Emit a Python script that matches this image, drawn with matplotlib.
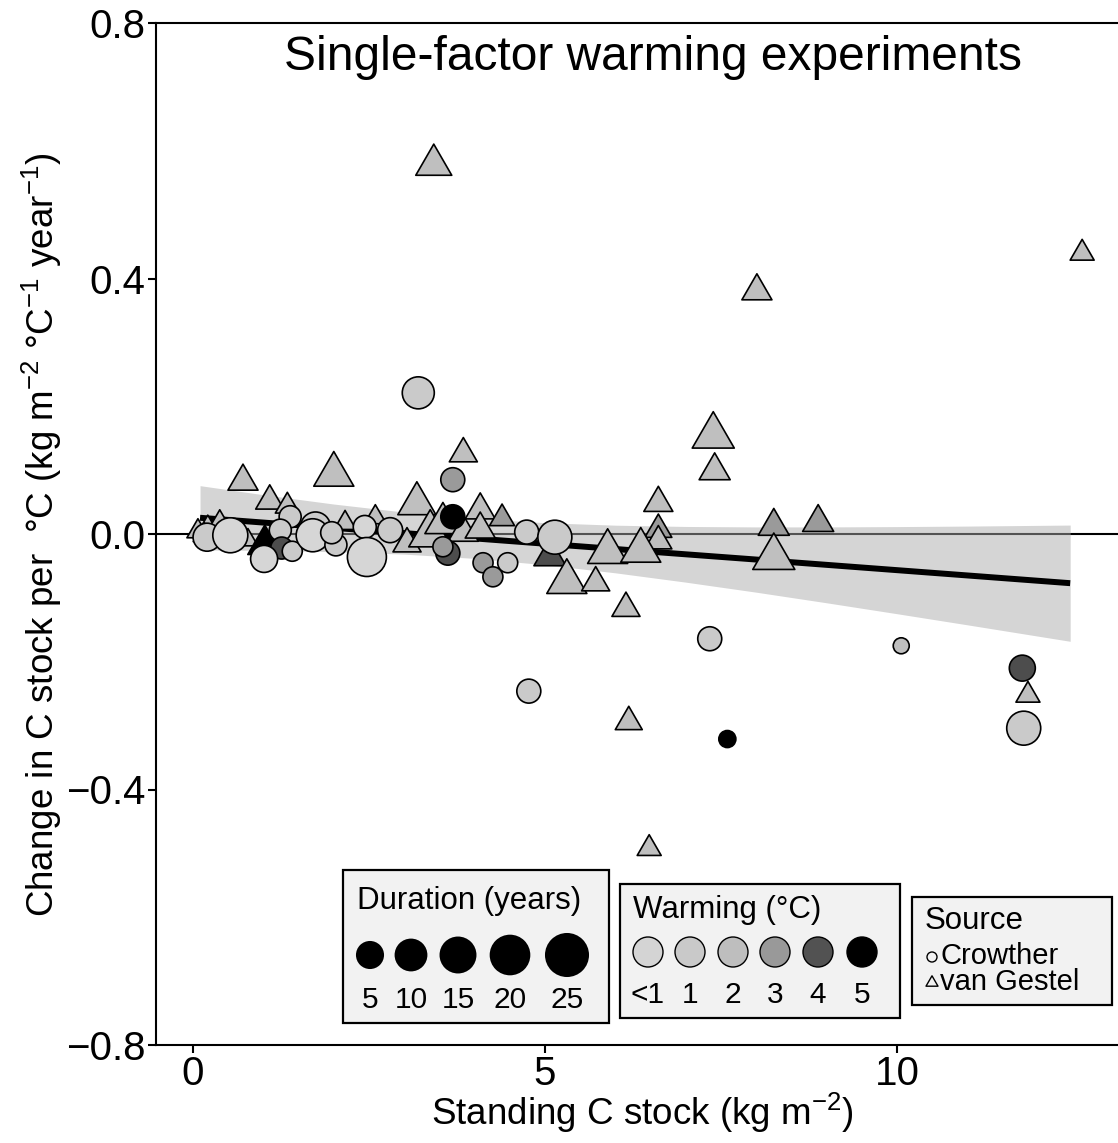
import matplotlib
matplotlib.use("Agg")
import matplotlib.pyplot as plt
import numpy as np
from matplotlib.path import Path
from matplotlib.patches import Rectangle

plt.rcParams['font.family'] = ['Liberation Sans', 'DejaVu Sans']
plt.rcParams['mathtext.fontset'] = 'custom'
plt.rcParams['mathtext.rm'] = 'Liberation Sans'
plt.rcParams['mathtext.it'] = 'Liberation Sans:italic'
plt.rcParams['mathtext.bf'] = 'Liberation Sans:bold'

# ---------------- data ----------------
# Crowther (circles): standing C stock, change, duration (yr), warming class (0 = "<1")
crow_x = [0.20, 0.53, 1.38, 1.24, 1.26, 1.01, 1.41, 1.74, 1.70, 2.03, 2.44, 2.80,
          2.47, 1.97, 3.20, 3.69, 3.62, 3.55, 3.69, 4.12, 4.26, 4.47, 4.74, 5.14,
          7.34, 10.06, 11.78, 11.80, 7.59, 4.77]
crow_y = [-0.005, -0.002, 0.027, 0.006, -0.022, -0.039, -0.027, 0.011, -0.002, -0.017, 0.011, 0.006,
          -0.036, 0.002, 0.221, 0.085, -0.030, -0.020, 0.027, -0.045, -0.067, -0.045, 0.003, -0.005,
          -0.164, -0.175, -0.210, -0.304, -0.321, -0.246]
crow_dur = [11.7, 20.5, 5.7, 5.7, 5.7, 10.6, 4.0, 14.0, 17.8, 5.7, 6.6, 8.5,
            26.4, 5.7, 16.5, 7.5, 7.5, 4.0, 7.5, 4.0, 4.0, 4.0, 7.5, 19.1,
            7.5, 1.1, 9.5, 19.1, 1.8, 7.5]
crow_warm = [1, 0, 1, 1, 4, 0, 1, 1, 0, 1, 0, 1,
             0, 1, 1, 3, 4, 3, 5, 3, 3, 1, 1, 1,
             1, 2, 4, 1, 5, 1]

# van Gestel (triangles)
gest_x = [0.07, 0.21, 0.38, 0.16, 0.78, 1.02, 0.71, 2.00, 1.09, 1.34, 2.16, 2.59,
          3.04, 3.18, 3.37, 3.55, 3.84, 3.84, 4.08, 4.08, 4.39, 3.42, 12.63, 8.01,
          7.39, 7.41, 6.61, 6.61, 6.61, 5.07, 5.31, 5.72, 6.15, 5.89, 6.36, 8.25,
          8.88, 8.25, 6.19, 11.86, 6.48]
gest_y = [0.009, 0.016, 0.023, 0.003, -0.005, -0.009, 0.089, 0.102, 0.058, 0.049, 0.022, 0.031,
          -0.009, 0.056, 0.009, 0.025, 0.009, 0.132, 0.044, 0.014, 0.030, 0.586, 0.445, 0.387,
          0.163, 0.106, 0.055, 0.013, -0.005, -0.028, -0.066, -0.070, -0.110, -0.019, -0.017, 0.019,
          0.025, -0.027, -0.288, -0.247, -0.487]
gest_dur = [4.0, 2.6, 4.0, 4.0, 2.6, 15.1, 10.9, 22.5, 9.0, 5.5, 4.0, 4.0,
            9.0, 19.9, 26.5, 17.4, 10.9, 9.0, 10.9, 10.9, 6.3, 17.4, 5.5, 10.9,
            25.2, 11.9, 9.9, 8.0, 8.0, 12.9, 22.5, 9.0, 9.0, 22.5, 22.5, 11.9,
            11.9, 25.2, 8.0, 5.5, 5.5]
gest_warm = [2, 2, 2, 2, 2, 5, 2, 2, 2, 2, 2, 2,
             2, 2, 2, 2, 2, 2, 2, 2, 3, 2, 2, 2,
             2, 2, 2, 3, 2, 4, 2, 2, 2, 2, 2, 3,
             3, 2, 2, 2, 2]

# fitted regression line and its confidence band
fit_x = [0.10, 1, 2, 3, 4, 5, 6, 7, 8, 9, 10, 11, 12.46]
fit_y = [0.0254, 0.0179, 0.0096, 0.0014, -0.0069, -0.0152, -0.0235, -0.0318, -0.0400, -0.0483, -0.0566, -0.0649, -0.0770]
band_lo = [-0.0249, -0.0257, -0.0277, -0.0315, -0.0382, -0.0481, -0.0608, -0.0754, -0.0911, -0.1077, -0.1248, -0.1422, -0.1680]
band_hi = [0.0757, 0.0615, 0.0469, 0.0343, 0.0244, 0.0177, 0.0138, 0.0118, 0.0111, 0.0111, 0.0116, 0.0124, 0.0140]

x_ticks = [0, 5, 10]
y_ticks = [0.8, 0.4, 0.0, -0.4, -0.8]
dur_legend = [5, 10, 15, 20, 25]
warm_legend = ["<1", "1", "2", "3", "4", "5"]
source_labels = ["Crowther", "van Gestel"]

title = "Single-factor warming experiments"
xlabel = r"Standing C stock (kg m$^{-2}$)"
ylabel = r"Change in C stock per  °C (kg m$^{-2}$ °C$^{-1}$ year$^{-1}$)"

# ---------------- styles ----------------
W, H = 1118, 1143
DPI = 100
PX2PT = 72.0 / DPI
warm_cols = ['#d6d6d6', '#cacaca', '#bfbfbf', '#9a9a9a', '#4d4d4d', '#000000']

tri = Path([(-1, -0.866), (1, -0.866), (0, 0.866), (-1, -0.866)],
           [Path.MOVETO, Path.LINETO, Path.LINETO, Path.CLOSEPOLY])


def circ_diam_px(d):
    return np.sqrt(200 + 50 * np.asarray(d, float))


def circ_s(d):
    return (circ_diam_px(d) * PX2PT) ** 2


def tri_s(d):
    return (1.1 * circ_diam_px(d) * PX2PT) ** 2


fig = plt.figure(figsize=(W / DPI, H / DPI), dpi=DPI)
ax_l, ax_r, ax_t, ax_b = 156, 1118, 23, 1045
ax = fig.add_axes([ax_l / W, (H - ax_b) / H, (ax_r - ax_l) / W, (ax_b - ax_t) / H])
ax.set_xlim((ax_l - 193) / 70.4, (ax_r - 193) / 70.4)
ax.set_ylim(-0.8, 0.8)

ax.axhline(0, color='black', lw=1.5, zorder=1)
ax.fill_between(fit_x, band_lo, band_hi, color='#aaaaaa', alpha=0.49, lw=0, zorder=2)
ax.plot(fit_x, fit_y, color='black', lw=4.3, zorder=3, solid_capstyle='butt')

ax.scatter(gest_x, gest_y, s=tri_s(gest_dur), marker=tri,
           c=[warm_cols[w] for w in gest_warm], edgecolors='black', linewidths=1.2, zorder=4)
ax.scatter(crow_x, crow_y, s=circ_s(crow_dur), marker='o',
           c=[warm_cols[w] for w in crow_warm], edgecolors='black', linewidths=1.2, zorder=5)

ax.spines['right'].set_visible(False)
for sp in ['left', 'top', 'bottom']:
    ax.spines[sp].set_linewidth(1.5)

ax.set_xticks(x_ticks)
ax.set_xticklabels([str(t) for t in x_ticks])
ax.set_yticks(y_ticks)
ax.set_yticklabels([f"{t:.1f}".replace('-', '\u2212') for t in y_ticks])
ax.tick_params(axis='both', direction='out', length=6, width=1.5, labelsize=29, pad=1.5)
ax.tick_params(top=False, right=False)

fig.text(653 / W, 1 - 58 / H, title, fontsize=34.5, ha='center', va='center')
fig.text(642 / W, 1 - 1113 / H, xlabel, fontsize=26.5, ha='center', va='center')
fig.text(42 / W, 1 - 535 / H, ylabel, fontsize=26.5, ha='center', va='center', rotation=90)

# ---------------- legends (drawn in pixel coordinates) ----------------
ov = fig.add_axes([0, 0, 1, 1], zorder=10)
ov.set_xlim(0, W)
ov.set_ylim(H, 0)
ov.axis('off')
ov.patch.set_alpha(0)

LFS = 22.5
NFS = 21.5
SFS = 21.0
# Duration box
ov.add_patch(Rectangle((343, 870), 266, 153, facecolor='#f2f2f2', edgecolor='black', lw=1.6))
ov.text(357, 901, "Duration (years)", fontsize=LFS, ha='left', va='center')
dur_cx = [370, 411, 458, 510, 567]
dur_d = np.sqrt(500 + 57.6 * np.asarray(dur_legend, float))
ov.scatter(dur_cx, [955] * len(dur_cx), s=(dur_d * PX2PT) ** 2, c='black', edgecolors='none')
for cx, lab in zip(dur_cx, dur_legend):
    ov.text(cx, 1000, str(lab), fontsize=NFS, ha='center', va='center')

# Warming box
ov.add_patch(Rectangle((620, 884), 280, 134, facecolor='#f2f2f2', edgecolor='black', lw=1.6))
ov.text(633, 910, "Warming (°C)", fontsize=LFS, ha='left', va='center')
warm_cx = [648, 690, 733, 775, 818, 862]
ov.scatter(warm_cx, [952] * len(warm_cx), s=(30 * PX2PT) ** 2,
           c=['#d4d4d4', '#c9c9c9', '#bebebe', '#999999', '#525252', '#000000'],
           edgecolors='black', linewidths=1.0)
for cx, lab in zip(warm_cx, warm_legend):
    ov.text(cx, 995, lab, fontsize=NFS, ha='center', va='center')

# Source box
ov.add_patch(Rectangle((912, 897), 200, 108, facecolor='#f2f2f2', edgecolor='black', lw=1.6))
ov.text(925, 921, "Source", fontsize=LFS, ha='left', va='center')
ov.scatter([932], [957], s=(10 * PX2PT) ** 2, marker='o', facecolors='none', edgecolors='black', linewidths=1.0)
ov.scatter([932], [981], s=(12 * PX2PT) ** 2, marker=tri, facecolors='none', edgecolors='black', linewidths=1.0)
ov.text(940, 956, source_labels[0], fontsize=SFS, ha='left', va='center')
ov.text(940, 982, source_labels[1], fontsize=SFS, ha='left', va='center')

fig.savefig("out.png", dpi=DPI)
